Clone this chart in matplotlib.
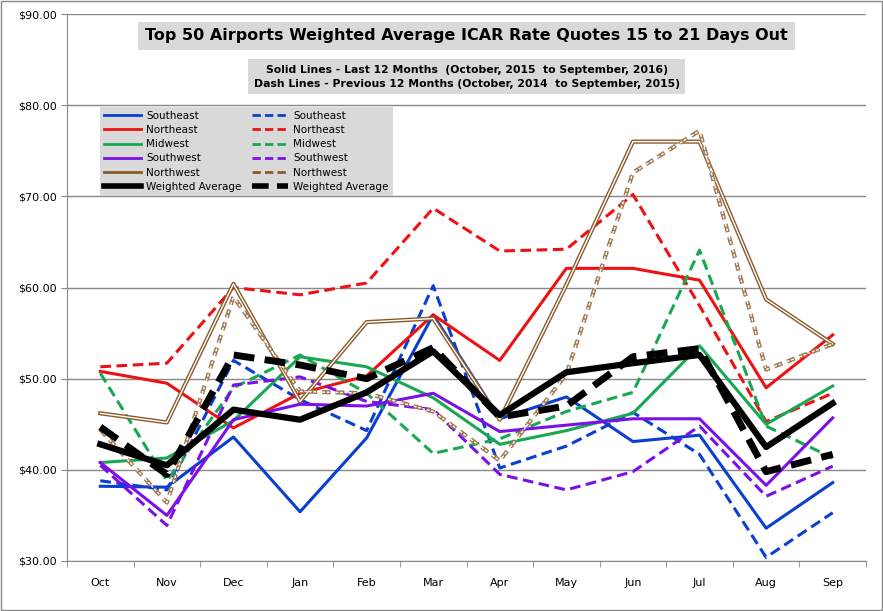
import matplotlib

matplotlib.use("Agg")
import matplotlib.pyplot as plt
from matplotlib.lines import Line2D
import numpy as np

months = ["Oct", "Nov", "Dec", "Jan", "Feb", "Mar", "Apr", "May", "Jun", "Jul", "Aug", "Sep"]

# last 12 months (solid)
se_cur = [38.2, 38.1, 43.6, 35.4, 43.5, 57.0, 45.6, 48.0, 43.1, 43.8, 33.6, 38.6]
ne_cur = [50.8, 49.5, 44.6, 48.4, 50.3, 57.0, 52.0, 62.1, 62.1, 60.8, 49.0, 54.8]
mw_cur = [40.8, 41.3, 45.4, 52.4, 51.3, 47.9, 42.8, 44.3, 46.2, 53.6, 45.0, 49.2]
sw_cur = [40.8, 35.0, 45.5, 47.2, 47.0, 48.4, 44.2, 44.9, 45.6, 45.6, 38.3, 45.7]
nw_cur = [46.2, 45.2, 60.4, 47.5, 56.2, 56.6, 45.5, 60.3, 76.0, 76.0, 58.7, 53.8]
wa_cur = [42.8, 40.5, 46.6, 45.5, 48.5, 53.0, 46.0, 50.7, 51.7, 52.6, 42.5, 47.3]

# previous 12 months (dashed)
se_prev = [38.8, 37.8, 52.0, 47.7, 44.3, 60.2, 40.2, 42.6, 46.3, 41.7, 30.4, 35.3]
ne_prev = [51.3, 51.7, 60.0, 59.2, 60.5, 68.7, 64.0, 64.2, 70.2, 58.0, 45.3, 48.4]
mw_prev = [50.6, 38.8, 49.0, 52.6, 48.4, 41.8, 43.4, 46.4, 48.5, 64.1, 44.8, 41.3]
sw_prev = [40.5, 33.9, 49.3, 50.2, 47.5, 46.6, 39.5, 37.8, 39.8, 44.8, 37.1, 40.4]
nw_prev = [44.4, 36.4, 59.0, 48.6, 48.4, 46.4, 41.0, 50.5, 72.6, 77.2, 51.0, 53.8]
wa_prev = [44.7, 39.5, 52.6, 51.5, 50.0, 53.4, 45.8, 47.0, 52.4, 53.3, 39.8, 41.7]

yticks = [30, 40, 50, 60, 70, 80, 90]

fig = plt.figure(figsize=(8.83, 6.11), dpi=100, facecolor="white")
ax = fig.add_axes([67 / 883, 1 - 561 / 611, 799 / 883, 547 / 611])
x = np.arange(len(months))

colors = {"se": "#0a3fcf", "ne": "#ee1111", "mw": "#19a852", "sw": "#7b10e8"}
ls_d = (0, (3.5, 1.8))
for key, cur, prev in [("se", se_cur, se_prev), ("ne", ne_cur, ne_prev),
                       ("mw", mw_cur, mw_prev), ("sw", sw_cur, sw_prev)]:
    ax.plot(x, prev, color=colors[key], lw=2.2, ls=ls_d, zorder=3)
    ax.plot(x, cur, color=colors[key], lw=2.2, zorder=3)

brown = "#8b5a2b"
ax.plot(x, nw_cur, color=brown, lw=3.0, zorder=4)
ax.plot(x, nw_cur, color="white", lw=1.0, zorder=4)
ax.plot(x, nw_prev, color="#a07850", lw=3.0, ls=(0, (2, 1.2)), zorder=4)
ax.plot(x, nw_prev, color="white", lw=1.0, ls=(0, (2, 1.2)), zorder=4)
ax.plot(x, wa_prev, color="black", lw=5, ls=(0, (3, 1.5)), zorder=5)
ax.plot(x, wa_cur, color="black", lw=4.5, zorder=5)

ax.set_xlim(-0.5, 11.5)
ax.set_ylim(30, 90)
ax.set_yticks(yticks)
ax.set_yticklabels([f"${v:.2f}" for v in yticks], fontsize=8)
ax.set_xticks(x)
ax.set_xticklabels(months, fontsize=8)
ax.set_xticks(np.arange(-0.5, 12, 1), minor=True)
ax.tick_params(axis="x", which="major", length=0, pad=12)
ax.tick_params(axis="x", which="minor", length=4, color="#888888")
ax.tick_params(axis="y", length=4, color="#888888")
ax.grid(axis="y", color="#888888", lw=1)
for s in ["top", "right"]:
    ax.spines[s].set_visible(False)
for s in ["left", "bottom"]:
    ax.spines[s].set_color("#888888")

ax.text(0.5, 0.96, "Top 50 Airports Weighted Average ICAR Rate Quotes 15 to 21 Days Out",
        transform=ax.transAxes, ha="center", va="center", fontsize=11.5, fontweight="bold",
        bbox=dict(facecolor="#d9d9d9", edgecolor="none", pad=5), zorder=6)
ax.text(0.5, 0.885, "Solid Lines - Last 12 Months  (October, 2015  to September, 2016)\n"
        "Dash Lines - Previous 12 Months (October, 2014  to September, 2015)",
        transform=ax.transAxes, ha="center", va="center", fontsize=7.8, fontweight="bold",
        linespacing=1.5, bbox=dict(facecolor="#d9d9d9", edgecolor="none", pad=4), zorder=6)

names = ["Southeast", "Northeast", "Midwest", "Southwest", "Northwest", "Weighted Average"]
cols = [colors["se"], colors["ne"], colors["mw"], colors["sw"], brown, "black"]
handles = []
for n, c in zip(names, cols):
    lw = 4 if n.startswith("Weighted") else 2
    handles.append(Line2D([], [], color=c, lw=lw, label=n))
for n, c in zip(names, cols):
    lw = 4 if n.startswith("Weighted") else 2
    handles.append(Line2D([], [], color=c, lw=lw, ls=(0, (3, 1.5)), label=n))
leg = ax.legend(handles=handles, ncol=2, loc="upper left", bbox_to_anchor=(0.035, 0.84),
                fontsize=7.5, frameon=True, facecolor="#d9d9d9", edgecolor="none",
                framealpha=1, fancybox=False, handlelength=3.5, labelspacing=0.4,
                columnspacing=1.0, borderpad=0.4, handletextpad=0.5)
leg.set_zorder(7)

fig.patches.append(plt.Rectangle((0.001, 0.001), 0.998, 0.998, transform=fig.transFigure,
                                 fill=False, edgecolor="#888888", lw=1))
fig.savefig("out.png", dpi=100, facecolor="white")
